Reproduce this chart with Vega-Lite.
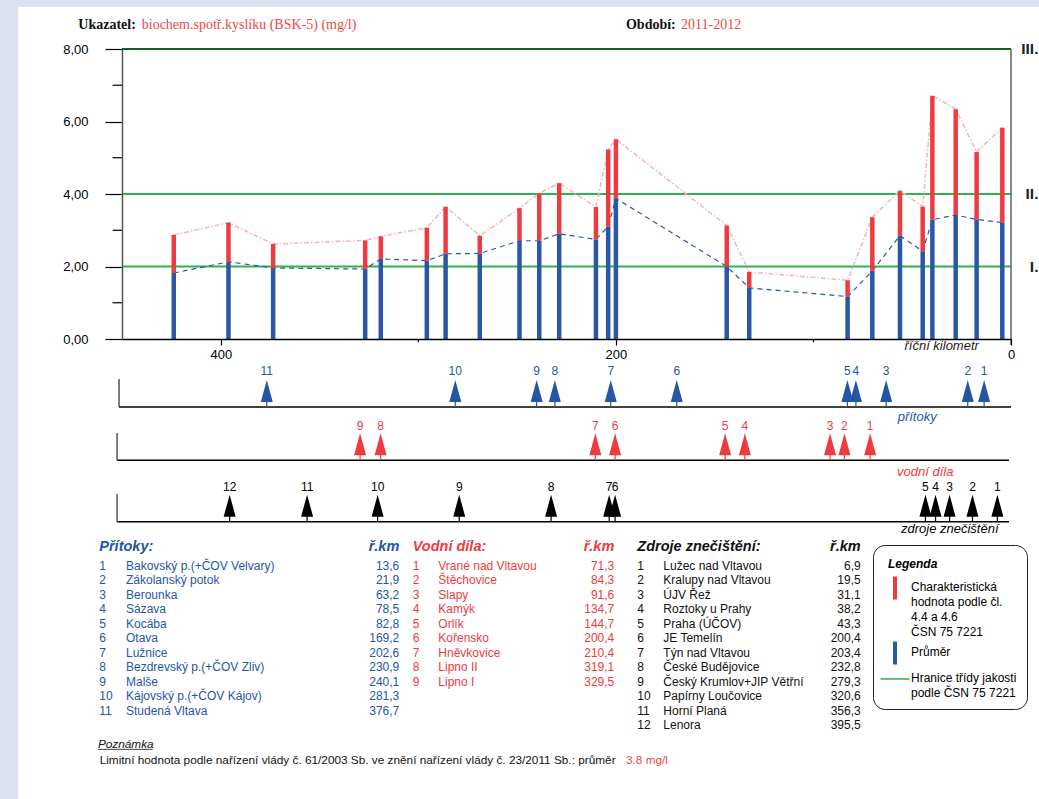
{
  "$schema": "https://vega.github.io/schema/vega-lite/v6.json",
  "width": 889,
  "height": 290,
  "autosize": {"type": "none"},
  "padding": {"left": 122, "top": 49, "right": 28, "bottom": 460},
  "background": "#dce0f1",
  "config": {
    "view": {"stroke": null},
    "locale": {"number": {"decimal": ",", "thousands": " ", "grouping": [3], "currency": ["", " Kč"]}},
    "font": "Liberation Sans",
    "text": {"font": "Liberation Sans"},
    "axis": {"labelFont": "Liberation Sans"}
  },
  "datasets": {
    "meta": [{"ukazatel": "biochem.spotř.kyslíku (BSK-5) (mg/l)", "obdobi": "2011-2012", "poznamka": "Limitní hodnota podle nařízení vlády č. 61/2003 Sb. ve znění nařízení vlády č. 23/2011 Sb.: průměr", "limit": "3.8 mg/l"}],
    "classes": [{"limit": 2, "cls": "I."}, {"limit": 4, "cls": "II."}, {"limit": 8, "cls": "III."}],
    "stations": [
      {"km": 423.8, "mean": 1.82, "char": 2.87},
      {"km": 396.1, "mean": 2.13, "char": 3.21},
      {"km": 373.5, "mean": 1.96, "char": 2.62},
      {"km": 326.9, "mean": 1.93, "char": 2.72},
      {"km": 319.0, "mean": 2.21, "char": 2.83},
      {"km": 295.7, "mean": 2.16, "char": 3.07},
      {"km": 286.2, "mean": 2.35, "char": 3.65},
      {"km": 268.9, "mean": 2.36, "char": 2.85},
      {"km": 248.8, "mean": 2.71, "char": 3.61},
      {"km": 238.8, "mean": 2.71, "char": 4.02},
      {"km": 228.7, "mean": 2.90, "char": 4.30},
      {"km": 210.1, "mean": 2.75, "char": 3.64},
      {"km": 203.9, "mean": 3.10, "char": 5.23},
      {"km": 200.0, "mean": 3.88, "char": 5.51},
      {"km": 143.9, "mean": 2.00, "char": 3.13},
      {"km": 132.5, "mean": 1.41, "char": 1.85},
      {"km": 82.7, "mean": 1.17, "char": 1.62},
      {"km": 70.2, "mean": 1.88, "char": 3.36},
      {"km": 56.2, "mean": 2.85, "char": 4.09},
      {"km": 44.7, "mean": 2.42, "char": 3.65},
      {"km": 39.8, "mean": 3.29, "char": 6.71},
      {"km": 28.0, "mean": 3.42, "char": 6.34},
      {"km": 17.4, "mean": 3.30, "char": 5.16},
      {"km": 4.4, "mean": 3.21, "char": 5.83}
    ],
    "tributaries": [
      {"n": 1, "name": "Bakovský p.(+ČOV Velvary)", "km": 13.6},
      {"n": 2, "name": "Zákolanský potok", "km": 21.9},
      {"n": 3, "name": "Berounka", "km": 63.2},
      {"n": 4, "name": "Sázava", "km": 78.5},
      {"n": 5, "name": "Kocába", "km": 82.8},
      {"n": 6, "name": "Otava", "km": 169.2},
      {"n": 7, "name": "Lužnice", "km": 202.6},
      {"n": 8, "name": "Bezdrevský p.(+ČOV Zliv)", "km": 230.9},
      {"n": 9, "name": "Malše", "km": 240.1},
      {"n": 10, "name": "Kájovský p.(+ČOV Kájov)", "km": 281.3},
      {"n": 11, "name": "Studená Vltava", "km": 376.7}
    ],
    "reservoirs": [
      {"n": 1, "name": "Vrané nad Vltavou", "km": 71.3},
      {"n": 2, "name": "Štěchovice", "km": 84.3},
      {"n": 3, "name": "Slapy", "km": 91.6},
      {"n": 4, "name": "Kamýk", "km": 134.7},
      {"n": 5, "name": "Orlík", "km": 144.7},
      {"n": 6, "name": "Kořensko", "km": 200.4},
      {"n": 7, "name": "Hněvkovice", "km": 210.4},
      {"n": 8, "name": "Lipno II", "km": 319.1},
      {"n": 9, "name": "Lipno I", "km": 329.5}
    ],
    "sources": [
      {"n": 1, "name": "Lužec nad Vltavou", "km": 6.9},
      {"n": 2, "name": "Kralupy nad Vltavou", "km": 19.5},
      {"n": 3, "name": "ÚJV Řež", "km": 31.1},
      {"n": 4, "name": "Roztoky u Prahy", "km": 38.2},
      {"n": 5, "name": "Praha (ÚČOV)", "km": 43.3},
      {"n": 6, "name": "JE Temelín", "km": 200.4},
      {"n": 7, "name": "Týn nad Vltavou", "km": 203.4},
      {"n": 8, "name": "České Budějovice", "km": 232.8},
      {"n": 9, "name": "Český Krumlov+JIP Větřní", "km": 279.3},
      {"n": 10, "name": "Papírny Loučovice", "km": 320.6},
      {"n": 11, "name": "Horní Planá", "km": 356.3},
      {"n": 12, "name": "Lenora", "km": 395.5}
    ]
  },
  "resolve": {"scale": {"x": "independent", "y": "independent"}},
  "layer": [
    {
      "data": {"name": "meta"},
      "mark": {"type": "rect", "fill": "white"},
      "encoding": {
        "x": {"datum": 502.6, "type": "quantitative", "scale": {"domain": [450, 0], "range": [0, 889]}, "axis": null},
        "x2": {"datum": -20},
        "y": {"datum": 9.16, "type": "quantitative", "scale": {"domain": [0, 8], "range": [290, 0]}, "axis": null},
        "y2": {"datum": -21}
      }
    },
    {
      "data": {"name": "classes"},
      "transform": [{"filter": "datum.limit < 8"}],
      "mark": {"type": "rule", "strokeWidth": 2},
      "encoding": {
        "x": {"datum": 450, "type": "quantitative", "scale": {"domain": [450, 0], "range": [0, 889]}, "axis": null},
        "x2": {"datum": 0},
        "y": {"field": "limit", "type": "quantitative", "scale": {"domain": [0, 8], "range": [290, 0]}, "axis": null},
        "color": {"datum": "Hranice třídy jakosti", "type": "nominal"}
      }
    },
    {
      "data": {"name": "classes"},
      "transform": [{"filter": "datum.limit == 8"}],
      "mark": {"type": "rule", "strokeWidth": 2, "color": "#1d5a31"},
      "encoding": {
        "x": {"datum": 450, "type": "quantitative", "scale": {"domain": [450, 0], "range": [0, 889]}, "axis": null},
        "x2": {"datum": 0},
        "y": {"field": "limit", "type": "quantitative", "scale": {"domain": [0, 8], "range": [290, 0]}, "axis": null}
      }
    },
    {
      "data": {"name": "classes"},
      "mark": {"type": "text", "align": "right", "baseline": "middle", "fontSize": 15.5, "fontWeight": "bold", "color": "#222222"},
      "encoding": {
        "x": {"datum": -13.9, "type": "quantitative", "scale": {"domain": [450, 0], "range": [0, 889]}, "axis": null},
        "y": {"field": "limit", "type": "quantitative", "scale": {"domain": [0, 8], "range": [290, 0]}, "axis": null},
        "text": {"field": "cls"}
      }
    },
    {
      "data": {"name": "meta"},
      "mark": {"type": "rule", "color": "#666666", "strokeWidth": 1.5},
      "encoding": {
        "x": {"datum": 0, "type": "quantitative", "scale": {"domain": [450, 0], "range": [0, 889]}, "axis": null},
        "y": {"datum": -0.166, "type": "quantitative", "scale": {"domain": [0, 8], "range": [290, 0]}, "axis": null},
        "y2": {"datum": 8}
      }
    },
    {
      "data": {"values": [{"tick": 1}, {"tick": 3}, {"tick": 5}, {"tick": 7}]},
      "mark": {"type": "rule", "color": "black", "strokeWidth": 1.2},
      "encoding": {
        "x": {"datum": 454.76, "type": "quantitative", "scale": {"domain": [450, 0], "range": [0, 889]}, "axis": null},
        "x2": {"datum": 450},
        "y": {"field": "tick", "type": "quantitative", "scale": {"domain": [0, 8], "range": [290, 0]}, "axis": null}
      }
    },
    {
      "data": {"values": [{"tick": 300}, {"tick": 100}]},
      "mark": {"type": "rule", "color": "black", "strokeWidth": 1.2},
      "encoding": {
        "x": {"field": "tick", "type": "quantitative", "scale": {"domain": [450, 0], "range": [0, 889]}, "axis": null},
        "y": {"datum": 0, "type": "quantitative", "scale": {"domain": [0, 8], "range": [290, 0]}, "axis": null},
        "y2": {"datum": -0.09}
      }
    },
    {
      "data": {"name": "meta"},
      "mark": {"type": "text", "text": "říční kilometr", "fontStyle": "italic", "fontSize": 13, "align": "center", "baseline": "middle", "color": "#222222"},
      "encoding": {
        "x": {"datum": 35.1, "type": "quantitative", "scale": {"domain": [450, 0], "range": [0, 889]}, "axis": null},
        "y": {"datum": -0.193, "type": "quantitative", "scale": {"domain": [0, 8], "range": [290, 0]}, "axis": null}
      }
    },
    {
      "data": {"name": "stations"},
      "mark": {"type": "line", "color": "#f5b5b5", "strokeWidth": 1.5, "strokeDash": [5, 2, 1.5, 2]},
      "encoding": {
        "x": {"field": "km", "type": "quantitative", "scale": {"domain": [450, 0], "range": [0, 889]}, "axis": null},
        "y": {"field": "char", "type": "quantitative", "scale": {"domain": [0, 8], "range": [290, 0]}, "axis": null}
      }
    },
    {
      "data": {"name": "stations"},
      "mark": {"type": "line", "color": "#2b57a7", "strokeWidth": 1.2, "strokeDash": [5, 4]},
      "encoding": {
        "x": {"field": "km", "type": "quantitative", "scale": {"domain": [450, 0], "range": [0, 889]}, "axis": null},
        "y": {"field": "mean", "type": "quantitative", "scale": {"domain": [0, 8], "range": [290, 0]}, "axis": null}
      }
    },
    {
      "data": {"name": "stations"},
      "mark": {"type": "rule", "strokeWidth": 4.5},
      "encoding": {
        "x": {"field": "km", "type": "quantitative", "scale": {"domain": [450, 0], "range": [0, 889]},
          "axis": {"values": [400, 200, 0], "format": "d", "zindex": 2, "orient": "bottom", "tickSize": 6, "tickColor": "black", "tickWidth": 1.2, "domainColor": "black", "domainWidth": 1.5, "labelPadding": 3, "labelFlush": false, "labelOverlap": false, "labelFontSize": 13, "labelColor": "black", "title": null, "grid": false}},
        "y": {"field": "mean", "type": "quantitative", "scale": {"domain": [0, 8], "range": [290, 0]},
          "axis": {"values": [0, 2, 4, 6, 8], "format": ".2f", "zindex": 2, "orient": "left", "tickSize": 17, "tickColor": "black", "tickWidth": 1.2, "domainColor": "#555555", "domainWidth": 1.5, "labelPadding": 17, "labelFontSize": 13, "labelColor": "black", "title": null, "grid": false}},
        "y2": {"datum": 0},
        "color": {"datum": "Průměr", "type": "nominal"}
      }
    },
    {
      "data": {"name": "stations"},
      "mark": {"type": "rule", "strokeWidth": 4.5},
      "encoding": {
        "x": {"field": "km", "type": "quantitative", "scale": {"domain": [450, 0], "range": [0, 889]}, "axis": null},
        "y": {"field": "mean", "type": "quantitative", "scale": {"domain": [0, 8], "range": [290, 0]}, "axis": null},
        "y2": {"field": "char"},
        "color": {
          "datum": "Charakteristická hodnota",
          "type": "nominal",
          "scale": {"domain": ["Charakteristická hodnota", "Průměr", "Hranice třídy jakosti"], "range": ["#ee3b40", "#2b57a7", "#2fb24f"]},
          "legend": {
            "orient": "none", "legendX": 751, "legendY": 496,
            "title": "Legenda", "titleFont": "Liberation Sans", "titleFontStyle": "italic", "titleFontWeight": "bold", "titleFontSize": 12, "titleColor": "black", "titlePadding": 15, "titleAnchor": "start",
            "strokeColor": "#222222", "fillColor": "white", "cornerRadius": 12, "padding": 10,
            "labelFont": "Liberation Sans", "labelFontSize": 12, "labelColor": "black", "labelLimit": 300, "labelOffset": 10, "labelBaseline": "top",
            "rowPadding": -5, "symbolOffset": 6, "symbolType": "M0,-1L0,1", "symbolSize": 841, "symbolStrokeWidth": 4,
            "labelExpr": "datum.value == 'Průměr' ? 'Průměr' : datum.value == 'Hranice třídy jakosti' ? ['Hranice třídy jakosti', 'podle ČSN 75 7221'] : ['Charakteristická', 'hodnota podle čl.', '4.4 a 4.6', 'ČSN 75 7221']",
            "encode": {
              "symbols": {"update": {
                "shape": {"signal": "datum.value == 'Hranice třídy jakosti' ? 'M-1,0L1,0' : 'M0,-1L0,1'"},
                "size": {"signal": "datum.value == 'Hranice třídy jakosti' ? 841 : 529"},
                "strokeWidth": {"signal": "datum.value == 'Hranice třídy jakosti' ? 1.5 : 4"}
              }},
              "labels": {"update": {"dy": {"value": -6}, "lineHeight": {"value": 15}}},
              "title": {"update": {"dx": {"value": 5}, "dy": {"value": 4}}}
            }
          }
        }
      }
    },
    {
      "data": {"name": "meta"},
      "layer": [
        {"mark": {"type": "text", "text": "Ukazatel:", "font": "Liberation Serif", "fontWeight": "bold", "fontSize": 14, "align": "left", "baseline": "middle", "color": "#111111"},
         "encoding": {"x": {"datum": 472.1, "type": "quantitative", "scale": {"domain": [450, 0], "range": [0, 889]}, "axis": null}, "y": {"datum": 8.662, "type": "quantitative", "scale": {"domain": [0, 8], "range": [290, 0]}, "axis": null}}},
        {"mark": {"type": "text", "font": "Liberation Serif", "fontSize": 14, "align": "left", "baseline": "middle", "color": "#ef4747"},
         "encoding": {"x": {"datum": 440.0, "type": "quantitative", "scale": {"domain": [450, 0], "range": [0, 889]}, "axis": null}, "y": {"datum": 8.662, "type": "quantitative", "scale": {"domain": [0, 8], "range": [290, 0]}, "axis": null}, "text": {"field": "ukazatel"}}},
        {"mark": {"type": "text", "text": "Období:", "font": "Liberation Serif", "fontWeight": "bold", "fontSize": 14, "align": "left", "baseline": "middle", "color": "#111111"},
         "encoding": {"x": {"datum": 194.9, "type": "quantitative", "scale": {"domain": [450, 0], "range": [0, 889]}, "axis": null}, "y": {"datum": 8.662, "type": "quantitative", "scale": {"domain": [0, 8], "range": [290, 0]}, "axis": null}}},
        {"mark": {"type": "text", "font": "Liberation Serif", "fontSize": 14, "align": "left", "baseline": "middle", "color": "#ef4747"},
         "encoding": {"x": {"datum": 167.0, "type": "quantitative", "scale": {"domain": [450, 0], "range": [0, 889]}, "axis": null}, "y": {"datum": 8.662, "type": "quantitative", "scale": {"domain": [0, 8], "range": [290, 0]}, "axis": null}, "text": {"field": "obdobi"}}},
        {"mark": {"type": "text", "text": "Poznámka", "fontStyle": "italic", "fontSize": 11.8, "align": "left", "baseline": "middle", "color": "#111111"},
         "encoding": {"x": {"datum": 462.2, "type": "quantitative", "scale": {"domain": [450, 0], "range": [0, 889]}, "axis": null}, "y": {"datum": -11.18, "type": "quantitative", "scale": {"domain": [0, 8], "range": [290, 0]}, "axis": null}}},
        {"mark": {"type": "rule", "color": "#111111", "strokeWidth": 0.8},
         "encoding": {"x": {"datum": 462.2, "type": "quantitative", "scale": {"domain": [450, 0], "range": [0, 889]}, "axis": null}, "x2": {"datum": 434.5}, "y": {"datum": -11.32, "type": "quantitative", "scale": {"domain": [0, 8], "range": [290, 0]}, "axis": null}}},
        {"mark": {"type": "text", "fontSize": 11.8, "align": "left", "baseline": "middle", "color": "#111111"},
         "encoding": {"x": {"datum": 461.3, "type": "quantitative", "scale": {"domain": [450, 0], "range": [0, 889]}, "axis": null}, "y": {"datum": -11.6, "type": "quantitative", "scale": {"domain": [0, 8], "range": [290, 0]}, "axis": null}, "text": {"field": "poznamka"}}},
        {"mark": {"type": "text", "fontSize": 11.8, "align": "left", "baseline": "middle", "color": "#ef4747"},
         "encoding": {"x": {"datum": 194.9, "type": "quantitative", "scale": {"domain": [450, 0], "range": [0, 889]}, "axis": null}, "y": {"datum": -11.6, "type": "quantitative", "scale": {"domain": [0, 8], "range": [290, 0]}, "axis": null}, "text": {"field": "limit"}}}
      ]
    },
    {
      "data": {"name": "tributaries"},
      "encoding": {
        "x": {"field": "km", "type": "quantitative", "scale": {"domain": [450, 0], "range": [0, 889]}, "axis": null},
        "y": {"datum": 0, "type": "quantitative", "scale": {"domain": [0, 1], "range": [358, 330]}, "axis": null}
      },
      "layer": [
        {"transform": [{"filter": "datum.n == 1"}], "mark": {"type": "rule", "color": "black", "strokeWidth": 1.5},
         "encoding": {"x": {"datum": 451.5, "type": "quantitative", "scale": {"domain": [450, 0], "range": [0, 889]}, "axis": null}, "x2": {"datum": 0}}},
        {"transform": [{"filter": "datum.n == 1"}], "mark": {"type": "rule", "color": "#555555", "strokeWidth": 1.5},
         "encoding": {"x": {"datum": 451.5, "type": "quantitative", "scale": {"domain": [450, 0], "range": [0, 889]}, "axis": null}, "y2": {"datum": 1}}},
        {"mark": {"type": "point", "shape": "M0,-5.4L1.2,-1L0.12,-1L0.12,0L-0.12,0L-0.12,-1L-1.2,-1Z", "size": 100, "filled": true, "opacity": 1, "color": "#2456a5", "strokeWidth": 0}},
        {"mark": {"type": "text", "fontSize": 12, "color": "#2456a5", "baseline": "middle", "align": "center"},
         "encoding": {"y": {"datum": 1.296, "type": "quantitative", "scale": {"domain": [0, 1], "range": [358, 330]}, "axis": null}, "text": {"field": "n"}}},
        {"transform": [{"filter": "datum.n == 1"}], "mark": {"type": "text", "text": "přítoky", "fontStyle": "italic", "fontSize": 13, "color": "#2456a5", "baseline": "middle", "align": "center"},
         "encoding": {"x": {"datum": 47.5, "type": "quantitative", "scale": {"domain": [450, 0], "range": [0, 889]}, "axis": null}, "y": {"datum": -0.357, "type": "quantitative", "scale": {"domain": [0, 1], "range": [358, 330]}, "axis": null}}}
      ]
    },
    {
      "data": {"name": "reservoirs"},
      "encoding": {
        "x": {"field": "km", "type": "quantitative", "scale": {"domain": [450, 0], "range": [0, 889]}, "axis": null},
        "y": {"datum": 0, "type": "quantitative", "scale": {"domain": [0, 1], "range": [411.3, 384]}, "axis": null}
      },
      "layer": [
        {"transform": [{"filter": "datum.n == 1"}], "mark": {"type": "rule", "color": "black", "strokeWidth": 1.5},
         "encoding": {"x": {"datum": 452.5, "type": "quantitative", "scale": {"domain": [450, 0], "range": [0, 889]}, "axis": null}, "x2": {"datum": 1}}},
        {"transform": [{"filter": "datum.n == 1"}], "mark": {"type": "rule", "color": "#555555", "strokeWidth": 1.5},
         "encoding": {"x": {"datum": 452.5, "type": "quantitative", "scale": {"domain": [450, 0], "range": [0, 889]}, "axis": null}, "y2": {"datum": 1}}},
        {"mark": {"type": "point", "shape": "M0,-5.4L1.2,-1L0.12,-1L0.12,0L-0.12,0L-0.12,-1L-1.2,-1Z", "size": 100, "filled": true, "opacity": 1, "color": "#ee3b40", "strokeWidth": 0}},
        {"mark": {"type": "text", "fontSize": 12, "color": "#ee3b40", "baseline": "middle", "align": "center"},
         "encoding": {"y": {"datum": 1.267, "type": "quantitative", "scale": {"domain": [0, 1], "range": [411.3, 384]}, "axis": null}, "text": {"field": "n"}}},
        {"transform": [{"filter": "datum.n == 1"}], "mark": {"type": "text", "text": "vodní díla", "fontStyle": "italic", "fontSize": 13, "color": "#ee3b40", "baseline": "middle", "align": "center"},
         "encoding": {"x": {"datum": 43.4, "type": "quantitative", "scale": {"domain": [450, 0], "range": [0, 889]}, "axis": null}, "y": {"datum": -0.418, "type": "quantitative", "scale": {"domain": [0, 1], "range": [411.3, 384]}, "axis": null}}}
      ]
    },
    {
      "data": {"name": "sources"},
      "encoding": {
        "x": {"field": "km", "type": "quantitative", "scale": {"domain": [450, 0], "range": [0, 889]}, "axis": null},
        "y": {"datum": 0, "type": "quantitative", "scale": {"domain": [0, 1], "range": [472.7, 445]}, "axis": null}
      },
      "layer": [
        {"transform": [{"filter": "datum.n == 1"}], "mark": {"type": "rule", "color": "black", "strokeWidth": 1.5},
         "encoding": {"x": {"datum": 452.5, "type": "quantitative", "scale": {"domain": [450, 0], "range": [0, 889]}, "axis": null}, "x2": {"datum": 1}}},
        {"transform": [{"filter": "datum.n == 1"}], "mark": {"type": "rule", "color": "#555555", "strokeWidth": 1.5},
         "encoding": {"x": {"datum": 452.5, "type": "quantitative", "scale": {"domain": [450, 0], "range": [0, 889]}, "axis": null}, "y2": {"datum": 1}}},
        {"mark": {"type": "point", "shape": "M0,-5.4L1.2,-1L0.12,-1L0.12,0L-0.12,0L-0.12,-1L-1.2,-1Z", "size": 100, "filled": true, "opacity": 1, "color": "black", "strokeWidth": 0}},
        {"mark": {"type": "text", "fontSize": 12, "color": "black", "baseline": "middle", "align": "center"},
         "encoding": {"y": {"datum": 1.264, "type": "quantitative", "scale": {"domain": [0, 1], "range": [472.7, 445]}, "axis": null}, "text": {"field": "n"}}},
        {"transform": [{"filter": "datum.n == 1"}], "mark": {"type": "text", "text": "zdroje znečištění", "fontStyle": "italic", "fontSize": 13, "color": "black", "baseline": "middle", "align": "center"},
         "encoding": {"x": {"datum": 31.0, "type": "quantitative", "scale": {"domain": [450, 0], "range": [0, 889]}, "axis": null}, "y": {"datum": -0.264, "type": "quantitative", "scale": {"domain": [0, 1], "range": [472.7, 445]}, "axis": null}}}
      ]
    },
    {
      "data": {"name": "tributaries"},
      "encoding": {"y": {"field": "n", "type": "quantitative", "scale": {"domain": [1, 12], "range": [516.7, 676.2]}, "axis": null}},
      "layer": [
        {"mark": {"type": "text", "align": "left", "baseline": "middle", "fontSize": 12, "color": "#2456a5"},
         "encoding": {"x": {"datum": 0, "type": "quantitative", "scale": {"domain": [0, 1], "range": [-22.7, 277.3]}, "axis": null}, "text": {"field": "n"}}},
        {"mark": {"type": "text", "align": "left", "baseline": "middle", "fontSize": 12, "color": "#2456a5"},
         "encoding": {"x": {"datum": 0.089, "type": "quantitative", "scale": {"domain": [0, 1], "range": [-22.7, 277.3]}, "axis": null}, "text": {"field": "name"}}},
        {"mark": {"type": "text", "align": "right", "baseline": "middle", "fontSize": 12, "color": "#2456a5"},
         "encoding": {"x": {"datum": 1, "type": "quantitative", "scale": {"domain": [0, 1], "range": [-22.7, 277.3]}, "axis": null}, "text": {"field": "km", "format": ".1f"}}},
        {"transform": [{"filter": "datum.n == 1"}], "mark": {"type": "text", "text": "Přítoky:", "align": "left", "baseline": "middle", "fontSize": 14.5, "fontWeight": "bold", "fontStyle": "italic", "color": "#2456a5"},
         "encoding": {"x": {"datum": 0, "type": "quantitative", "scale": {"domain": [0, 1], "range": [-22.7, 277.3]}, "axis": null}, "y": {"datum": -0.31, "type": "quantitative", "scale": {"domain": [1, 12], "range": [516.7, 676.2]}, "axis": null}}},
        {"transform": [{"filter": "datum.n == 1"}], "mark": {"type": "text", "text": "ř.km", "align": "right", "baseline": "middle", "fontSize": 14.5, "fontWeight": "bold", "fontStyle": "italic", "color": "#2456a5"},
         "encoding": {"x": {"datum": 1, "type": "quantitative", "scale": {"domain": [0, 1], "range": [-22.7, 277.3]}, "axis": null}, "y": {"datum": -0.31, "type": "quantitative", "scale": {"domain": [1, 12], "range": [516.7, 676.2]}, "axis": null}}}
      ]
    },
    {
      "data": {"name": "reservoirs"},
      "encoding": {"y": {"field": "n", "type": "quantitative", "scale": {"domain": [1, 12], "range": [516.7, 676.2]}, "axis": null}},
      "layer": [
        {"mark": {"type": "text", "align": "left", "baseline": "middle", "fontSize": 12, "color": "#ee3b40"},
         "encoding": {"x": {"datum": 0, "type": "quantitative", "scale": {"domain": [0, 1], "range": [290.7, 492.3]}, "axis": null}, "text": {"field": "n"}}},
        {"mark": {"type": "text", "align": "left", "baseline": "middle", "fontSize": 12, "color": "#ee3b40"},
         "encoding": {"x": {"datum": 0.127, "type": "quantitative", "scale": {"domain": [0, 1], "range": [290.7, 492.3]}, "axis": null}, "text": {"field": "name"}}},
        {"mark": {"type": "text", "align": "right", "baseline": "middle", "fontSize": 12, "color": "#ee3b40"},
         "encoding": {"x": {"datum": 1, "type": "quantitative", "scale": {"domain": [0, 1], "range": [290.7, 492.3]}, "axis": null}, "text": {"field": "km", "format": ".1f"}}},
        {"transform": [{"filter": "datum.n == 1"}], "mark": {"type": "text", "text": "Vodní díla:", "align": "left", "baseline": "middle", "fontSize": 14.5, "fontWeight": "bold", "fontStyle": "italic", "color": "#ee3b40"},
         "encoding": {"x": {"datum": 0, "type": "quantitative", "scale": {"domain": [0, 1], "range": [290.7, 492.3]}, "axis": null}, "y": {"datum": -0.31, "type": "quantitative", "scale": {"domain": [1, 12], "range": [516.7, 676.2]}, "axis": null}}},
        {"transform": [{"filter": "datum.n == 1"}], "mark": {"type": "text", "text": "ř.km", "align": "right", "baseline": "middle", "fontSize": 14.5, "fontWeight": "bold", "fontStyle": "italic", "color": "#ee3b40"},
         "encoding": {"x": {"datum": 1, "type": "quantitative", "scale": {"domain": [0, 1], "range": [290.7, 492.3]}, "axis": null}, "y": {"datum": -0.31, "type": "quantitative", "scale": {"domain": [1, 12], "range": [516.7, 676.2]}, "axis": null}}}
      ]
    },
    {
      "data": {"name": "sources"},
      "encoding": {"y": {"field": "n", "type": "quantitative", "scale": {"domain": [1, 12], "range": [516.7, 676.2]}, "axis": null}},
      "layer": [
        {"mark": {"type": "text", "align": "left", "baseline": "middle", "fontSize": 12, "color": "#111111"},
         "encoding": {"x": {"datum": 0, "type": "quantitative", "scale": {"domain": [0, 1], "range": [515.3, 738.7]}, "axis": null}, "text": {"field": "n"}}},
        {"mark": {"type": "text", "align": "left", "baseline": "middle", "fontSize": 12, "color": "#111111"},
         "encoding": {"x": {"datum": 0.1164, "type": "quantitative", "scale": {"domain": [0, 1], "range": [515.3, 738.7]}, "axis": null}, "text": {"field": "name"}}},
        {"mark": {"type": "text", "align": "right", "baseline": "middle", "fontSize": 12, "color": "#111111"},
         "encoding": {"x": {"datum": 1, "type": "quantitative", "scale": {"domain": [0, 1], "range": [515.3, 738.7]}, "axis": null}, "text": {"field": "km", "format": ".1f"}}},
        {"transform": [{"filter": "datum.n == 1"}], "mark": {"type": "text", "text": "Zdroje znečištění:", "align": "left", "baseline": "middle", "fontSize": 14.5, "fontWeight": "bold", "fontStyle": "italic", "color": "#111111"},
         "encoding": {"x": {"datum": 0, "type": "quantitative", "scale": {"domain": [0, 1], "range": [515.3, 738.7]}, "axis": null}, "y": {"datum": -0.31, "type": "quantitative", "scale": {"domain": [1, 12], "range": [516.7, 676.2]}, "axis": null}}},
        {"transform": [{"filter": "datum.n == 1"}], "mark": {"type": "text", "text": "ř.km", "align": "right", "baseline": "middle", "fontSize": 14.5, "fontWeight": "bold", "fontStyle": "italic", "color": "#111111"},
         "encoding": {"x": {"datum": 1, "type": "quantitative", "scale": {"domain": [0, 1], "range": [515.3, 738.7]}, "axis": null}, "y": {"datum": -0.31, "type": "quantitative", "scale": {"domain": [1, 12], "range": [516.7, 676.2]}, "axis": null}}}
      ]
    }
  ]
}
